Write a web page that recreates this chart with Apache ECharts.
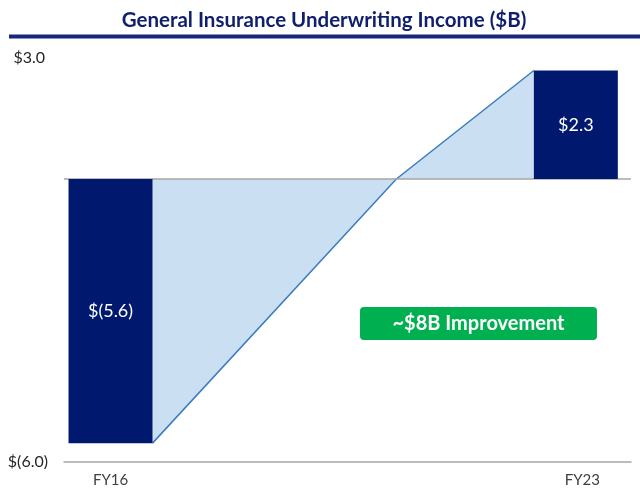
<!DOCTYPE html>
<html>
<head>
<meta charset="utf-8">
<script src="https://cdn.jsdelivr.net/npm/echarts@6/dist/echarts.min.js"></script>
<style>html,body{margin:0;padding:0;background:#fff}#c{width:640px;height:502px}</style>
</head>
<body>
<div id="c"></div>
<script>
// ---- data ----
const categories = ['FY16', 'FY23'];
const years = [2016, 2023];
const values = [-5.6, 2.3];
const valueLabels = ['$(5.6)', '$2.3'];
const breakevenYear = 2020.3;          // where the connector crosses zero
const yTicks = [-6, 3];
const yTickLabels = ['$(6.0)', '$3.0'];
const titleText = 'General Insurance Underwriting Income ($B)';
const calloutText = '~$8B Improvement';

const FONT = 'Lato';
const NAVY = '#00196e';
const BAR_W = 84;

const chart = echarts.init(document.getElementById('c'), null, {renderer: 'canvas'});

const option = {
  animation: false,
  title: {
    text: titleText,
    left: 319, textAlign: 'center', top: 5,
    textStyle: {fontFamily: FONT, fontWeight: 'bold', fontSize: 20.5, color: '#0f1f6e'}
  },
  grid: {left: 64, right: 9, top: 37.5, bottom: 40, containLabel: false},
  xAxis: {
    type: 'value', min: 2015.3, max: 2023.83,
    splitLine: {show: false},
    axisTick: {show: false},
    axisLine: {show: true, onZero: false, lineStyle: {color: '#a6a6a6', width: 1.5}},
    axisLabel: {
      customValues: years,
      formatter: v => {
        const i = years.indexOf(v);
        if (i < 0) return '';
        return i === 1 ? '{r|' + categories[i] + '}' : categories[i];
      },
      fontFamily: FONT, fontSize: 15, color: '#404040', margin: 11,
      rich: {r: {fontFamily: FONT, fontSize: 15, color: '#404040', padding: [0, 0, 0, 13]}}
    }
  },
  yAxis: {
    type: 'value', min: -6, max: 3, interval: 1,
    splitLine: {show: false},
    axisTick: {show: false},
    axisLine: {show: false},
    axisLabel: {
      formatter: v => {
        const i = yTicks.indexOf(v);
        if (i < 0) return '';
        return v === yTicks[1] ? '{top|' + yTickLabels[i] + '}' : yTickLabels[i];
      },
      fontFamily: FONT, fontSize: 16, color: '#262626', margin: 16,
      rich: {top: {fontFamily: FONT, fontSize: 16, color: '#262626', padding: [41, 3, 0, 0]}}
    }
  },
  series: [
    {
      type: 'custom',
      z: 1,
      clip: false,
      silent: true,
      data: [[years[0], values[0]]],
      renderItem: function (params, api) {
        const hw = BAR_W / 2;
        const a0 = api.coord([years[0], 0]); a0[0] += hw;
        const a1 = api.coord([years[0], values[0]]); a1[0] += hw;
        const m = api.coord([breakevenYear, 0]);
        const b1 = api.coord([years[1], values[1]]); b1[0] -= hw;
        const b0 = api.coord([years[1], 0]); b0[0] -= hw;
        return {
          type: 'group',
          children: [
            {type: 'polygon', shape: {points: [a0, a1, m]}, style: {fill: '#cbdff2', stroke: null}},
            {type: 'polygon', shape: {points: [m, b1, b0]}, style: {fill: '#cbdff2', stroke: null}},
            {type: 'polyline', shape: {points: [a1, m, b1]}, style: {fill: null, stroke: '#3a7cc0', lineWidth: 1.5}}
          ]
        };
      }
    },
    {
      type: 'bar',
      z: 3,
      barWidth: BAR_W,
      data: years.map((y, i) => ({value: [y, values[i]]})),
      itemStyle: {color: NAVY},
      label: {
        show: true, position: 'inside',
        formatter: p => valueLabels[p.dataIndex],
        fontFamily: FONT, fontSize: 18, color: '#ffffff'
      },
      markLine: {
        silent: true, symbol: 'none', z: 2,
        label: {show: false},
        lineStyle: {color: '#a6a6a6', width: 1.5, type: 'solid'},
        data: [{yAxis: 0}]
      }
    }
  ],
  graphic: [
    {type: 'line', shape: {x1: 9, y1: 36.5, x2: 640, y2: 36.5}, style: {stroke: '#17287c', lineWidth: 4}},
    {
      type: 'group', left: 360, top: 307,
      children: [
        {type: 'rect', shape: {x: 0, y: 0, width: 237, height: 33, r: 4}, style: {fill: '#00b050'}},
        {type: 'text', style: {text: calloutText, x: 118.5, y: 17, textAlign: 'center', textVerticalAlign: 'middle', align: 'center', verticalAlign: 'middle', fill: '#ffffff', fontFamily: FONT, fontWeight: 'bold', fontSize: 20}}
      ]
    }
  ]
};
chart.setOption(option);
</script>
</body>
</html>
